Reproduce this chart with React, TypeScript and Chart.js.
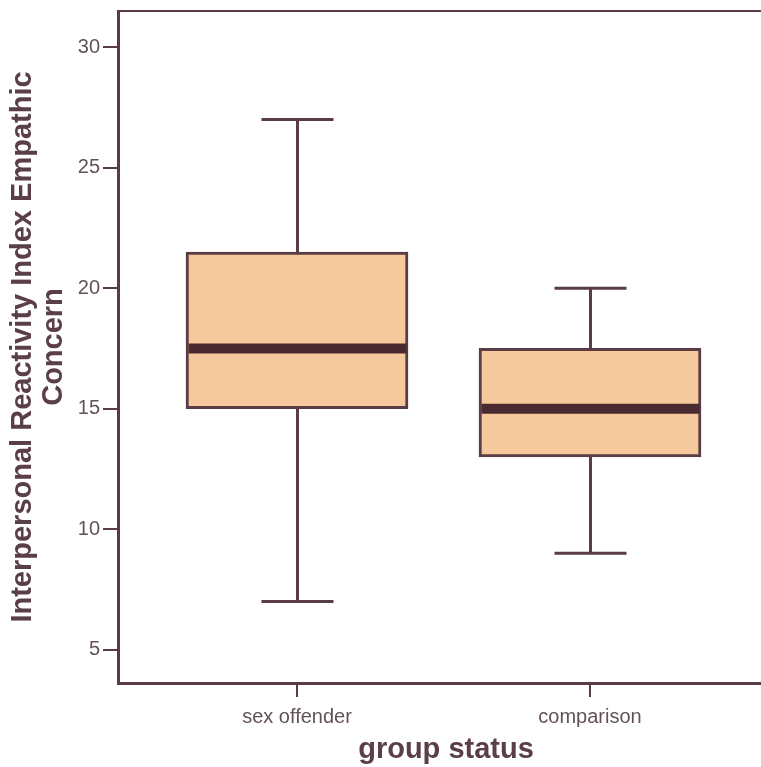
import React, { useEffect, useRef } from "react";
import { Chart, registerables } from "chart.js";

Chart.register(...registerables);

const categories = ["sex offender", "comparison"];
const positions = [1, 2];
const q1Values = [15, 13];
const q3Values = [21.5, 17.5];
const medianValues = [17.5, 15];
const minValues = [7, 9];
const maxValues = [27, 20];
const yTickValues = [5, 10, 15, 20, 25, 30];

const LINE = "#5a3c44";
const MEDIAN = "#4a2a31";
const FILL = "#f5c99b";
const TICK_TEXT = "#62525a";
const TITLE_TEXT = "#5a3f48";
const FONT = "'Liberation Sans', Arial, Helvetica, sans-serif";

const boxPlugin = {
  id: "boxExtras",
  afterDatasetsDraw(chart: any) {
    const { ctx, chartArea, scales } = chart;
    const x = scales.x;
    const y = scales.y;
    ctx.save();
    ctx.strokeStyle = LINE;
    ctx.lineWidth = 2;
    ctx.beginPath();
    ctx.moveTo(chartArea.left, chartArea.top);
    ctx.lineTo(chartArea.right, chartArea.top);
    ctx.stroke();
    const meta = chart.getDatasetMeta(0);
    positions.forEach((p, i) => {
      const cx = Math.round(x.getPixelForValue(p)) + 0.5;
      const bar = meta.data[i];
      const half = bar ? bar.width / 2 : 110;
      const capHalf = 36;
      ctx.strokeStyle = LINE;
      ctx.lineWidth = 3;
      ctx.beginPath();
      ctx.moveTo(cx, y.getPixelForValue(q3Values[i]));
      ctx.lineTo(cx, y.getPixelForValue(maxValues[i]));
      ctx.moveTo(cx, y.getPixelForValue(q1Values[i]));
      ctx.lineTo(cx, y.getPixelForValue(minValues[i]));
      ctx.moveTo(cx - capHalf, y.getPixelForValue(maxValues[i]));
      ctx.lineTo(cx + capHalf, y.getPixelForValue(maxValues[i]));
      ctx.moveTo(cx - capHalf, y.getPixelForValue(minValues[i]));
      ctx.lineTo(cx + capHalf, y.getPixelForValue(minValues[i]));
      ctx.stroke();
      ctx.strokeStyle = MEDIAN;
      ctx.lineWidth = 10;
      ctx.beginPath();
      const my = y.getPixelForValue(medianValues[i]);
      ctx.moveTo(cx - half + 2, my);
      ctx.lineTo(cx + half - 2, my);
      ctx.stroke();
    });
    ctx.restore();
  },
};

export default function App() {
  const ref = useRef<HTMLCanvasElement | null>(null);
  useEffect(() => {
    if (!ref.current) return;
    const chart = new Chart(ref.current, {
      type: "bar",
      data: {
        datasets: [
          {
            data: categories.map((c, i) => ({ x: positions[i], y: [q1Values[i], q3Values[i]] })) as any,
            backgroundColor: FILL,
            borderColor: LINE,
            borderWidth: 3,
            borderSkipped: false,
            barThickness: 222,
          },
        ],
      },
      options: {
        animation: false,
        responsive: false,
        maintainAspectRatio: false,
        layout: { padding: { top: 11, right: 2, left: 0, bottom: 0 } },
        plugins: { legend: { display: false }, tooltip: { enabled: false } },
        scales: {
          x: {
            type: "linear",
            offset: false,
            min: 0.389,
            max: 2.628,
            afterBuildTicks: (scale: any) => {
              scale.ticks = positions.map((v) => ({ value: v }));
            },
            afterFit: (scale: any) => {
              scale.height = 84;
              scale.paddingLeft = 0;
              scale.paddingRight = 0;
            },
            ticks: {
              callback: (v: any) => categories[positions.indexOf(Number(v))] ?? "",
              color: TICK_TEXT,
              font: { family: FONT, size: 20 },
              padding: 8,
              maxRotation: 0,
              autoSkip: false,
            },
            grid: {
              offset: false,
              drawOnChartArea: false,
              drawTicks: true,
              tickLength: 14,
              color: LINE,
              lineWidth: 2,
            },
            border: { display: true, color: LINE, width: 3 },
            title: {
              display: true,
              text: "group status",
              color: TITLE_TEXT,
              font: { family: FONT, size: 29, weight: "bold", lineHeight: 1.2 },
              padding: { top: 0, bottom: 0 },
            },
          },
          y: {
            type: "linear",
            min: 3.62,
            max: 31.5,
            afterBuildTicks: (scale: any) => {
              scale.ticks = yTickValues.map((v) => ({ value: v }));
            },
            afterFit: (scale: any) => {
              scale.width = 118;
              scale.paddingTop = 0;
              scale.paddingBottom = 0;
            },
            ticks: {
              color: TICK_TEXT,
              font: { family: FONT, size: 20 },
              padding: 3,
            },
            grid: {
              drawOnChartArea: false,
              drawTicks: true,
              tickLength: 15,
              color: LINE,
              lineWidth: 2,
            },
            border: { display: true, color: LINE, width: 3 },
            title: {
              display: true,
              text: ["Interpersonal Reactivity Index Empathic", "Concern"],
              color: TITLE_TEXT,
              font: { family: FONT, size: 29, weight: "bold", lineHeight: 1.07 },
              padding: { top: 7, bottom: 0 },
            },
          },
        },
      },
      plugins: [boxPlugin],
    });
    return () => chart.destroy();
  }, []);
  return (
    <div style={{ position: "absolute", left: 0, top: 0, width: 761, height: 767, overflow: "hidden", background: "#fff" }}>
      <canvas ref={ref} width={776} height={767} style={{ display: "block", width: 776, height: 767 }} />
    </div>
  );
}
